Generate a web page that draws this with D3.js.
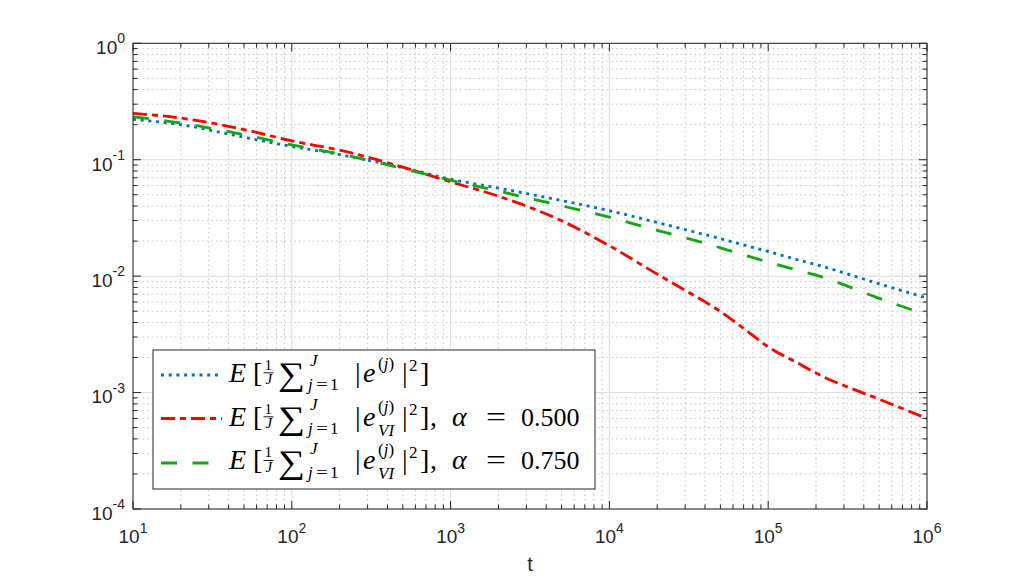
<!DOCTYPE html>
<html><head><meta charset="utf-8">
<script src="https://cdn.jsdelivr.net/npm/d3@7"></script>
<style>html,body{margin:0;padding:0;background:#fff}svg{display:block}</style>
</head><body>
<svg id="chart" width="1024" height="576"></svg>
<script>
// ---- data ----
const tValues   = [10, 20, 50, 100, 200, 500, 1000, 2000, 5000, 1e4, 2e4, 3e4, 5e4, 7e4, 1e5, 1.5e5, 2e5, 5e5, 1e6];
const errBase   = [0.222, 0.200, 0.156, 0.130, 0.1106, 0.0855, 0.068, 0.0571, 0.0446, 0.0365, 0.0289, 0.0251, 0.0210, 0.01854, 0.0163, 0.01393, 0.01256, 0.00859, 0.00648];
const errVI050  = [0.250, 0.228, 0.1817, 0.145, 0.1207, 0.0863, 0.0645, 0.0486, 0.0299, 0.01824, 0.0104, 0.00755, 0.00497, 0.00356, 0.00247, 0.001824, 0.00147, 0.000877, 0.0006];
const errVI075  = [0.234, 0.2066, 0.164, 0.134, 0.112, 0.084, 0.0667, 0.0538, 0.0402, 0.0321, 0.0247, 0.0214, 0.0175, 0.01524, 0.0132, 0.01133, 0.0102, 0.00645, 0.00463];
const xTickExps = [1, 2, 3, 4, 5, 6];
const yTickExps = [-4, -3, -2, -1, 0];
const alphaLabels = ["0.500", "0.750"];
const xLabel = "t";

// ---- layout ----
const L = 133, R = 927, T = 43.3, B = 509;
const svg = d3.select("#chart");
const x = d3.scaleLog().domain([10, 1e6]).range([L, R]);
const y = d3.scaleLog().domain([1e-4, 1]).range([B, T]);
const axisCol = "#262626";

const isMajor = v => Math.abs(Math.log10(v) - Math.round(Math.log10(v))) < 1e-9;
const xt = x.ticks(), yt = y.ticks();

// grid
const grid = svg.append("g");
grid.selectAll(".xm").data(xt.filter(v => !isMajor(v))).join("line")
  .attr("x1", d => x(d)).attr("x2", d => x(d)).attr("y1", T).attr("y2", B)
  .attr("stroke", "#c4c4c4").attr("stroke-width", 0.8).attr("stroke-dasharray", "2,2.6");
grid.selectAll(".ym").data(yt.filter(v => !isMajor(v))).join("line")
  .attr("y1", d => y(d)).attr("y2", d => y(d)).attr("x1", L).attr("x2", R)
  .attr("stroke", "#c4c4c4").attr("stroke-width", 0.8).attr("stroke-dasharray", "2,2.6");
grid.selectAll(".xM").data(xt.filter(isMajor)).join("line")
  .attr("x1", d => x(d)).attr("x2", d => x(d)).attr("y1", T).attr("y2", B)
  .attr("stroke", "#dcdcdc").attr("stroke-width", 1);
grid.selectAll(".yM").data(yt.filter(isMajor)).join("line")
  .attr("y1", d => y(d)).attr("y2", d => y(d)).attr("x1", L).attr("x2", R)
  .attr("stroke", "#dcdcdc").attr("stroke-width", 1);

// clip
svg.append("clipPath").attr("id", "clip").append("rect")
  .attr("x", L).attr("y", T).attr("width", R - L).attr("height", B - T);

const series = [
  {vals: errBase,  color: "#0072BD", dash: "3,4.7"},
  {vals: errVI050, color: "#FF0000", dash: "14,5,6,5"},
  {vals: errVI075, color: "#12A812", dash: "16,15.5"}
];
const line = d3.line().x(d => x(d[0])).y(d => y(d[1])).curve(d3.curveMonotoneX);
const lines = svg.append("g").attr("clip-path", "url(#clip)");
series.forEach(s => {
  lines.append("path").datum(tValues.map((t, i) => [t, s.vals[i]]))
    .attr("d", line).attr("fill", "none").attr("stroke", s.color)
    .attr("stroke-width", 2.8).attr("stroke-dasharray", s.dash).attr("stroke-linecap", "butt");
});

// axes box + ticks (inside, all four sides)
const ax = svg.append("g").attr("stroke", axisCol).attr("stroke-width", 1);
ax.append("rect").attr("x", L).attr("y", T).attr("width", R - L).attr("height", B - T).attr("fill", "none");
const tl = v => isMajor(v) ? 8 : 4.5;
xt.forEach(v => {
  ax.append("line").attr("x1", x(v)).attr("x2", x(v)).attr("y1", B).attr("y2", B - tl(v));
  ax.append("line").attr("x1", x(v)).attr("x2", x(v)).attr("y1", T).attr("y2", T + tl(v));
});
yt.forEach(v => {
  ax.append("line").attr("y1", y(v)).attr("y2", y(v)).attr("x1", L).attr("x2", L + tl(v));
  ax.append("line").attr("y1", y(v)).attr("y2", y(v)).attr("x1", R).attr("x2", R - tl(v));
});

// tick labels
const tickFont = "'Liberation Sans', Arial, Helvetica, sans-serif";
xTickExps.forEach(e => {
  const t = svg.append("text").attr("x", x(Math.pow(10, e))).attr("y", 543.3)
    .attr("text-anchor", "middle").attr("font-family", tickFont).attr("font-size", 19).attr("fill", axisCol);
  t.append("tspan").text("10");
  t.append("tspan").attr("dy", -10.3).attr("font-size", 14).text(String(e));
});
yTickExps.forEach(e => {
  const t = svg.append("text").attr("x", 125).attr("y", y(Math.pow(10, e)) + 10.8)
    .attr("text-anchor", "end").attr("font-family", tickFont).attr("font-size", 19).attr("fill", axisCol);
  t.append("tspan").text("10");
  t.append("tspan").attr("dy", -10.8).attr("font-size", 14).text(String(e));
});
svg.append("text").attr("x", (L + R) / 2).attr("y", 571).attr("text-anchor", "middle")
  .attr("font-family", tickFont).attr("font-size", 20).attr("fill", axisCol).text(xLabel);

// legend
const lg = svg.append("g");
lg.append("rect").attr("x", 153).attr("y", 350).attr("width", 442).attr("height", 139)
  .attr("fill", "#fff").attr("stroke", axisCol).attr("stroke-width", 1);
const rowBase = [381.6, 425.6, 469.3];
const rowLineY = [375, 418.5, 463];
series.forEach((s, i) => {
  lg.append("line").attr("x1", 161).attr("x2", 222).attr("y1", rowLineY[i]).attr("y2", rowLineY[i])
    .attr("stroke", s.color).attr("stroke-width", 2.8).attr("stroke-dasharray", s.dash);
});

const mathFont = "'Liberation Serif', 'Times New Roman', serif";
function mtext(g, px, py, size, parts, len) {
  const t = g.append("text").attr("x", px).attr("y", py).attr("font-family", mathFont)
    .attr("font-size", size).attr("fill", "#000");
  parts.forEach(p => t.append("tspan").attr("font-style", p[1] ? "italic" : "normal").text(p[0]));
  if (len) t.attr("textLength", len).attr("lengthAdjust", "spacingAndGlyphs");
  return t;
}
function mathRow(i, sub, alpha) {
  const b = rowBase[i];
  const g = lg.append("g");
  mtext(g, 229, b, 28, [["E", 1]]);
  mtext(g, 253, b, 28, [["[", 0]]);
  // fraction 1/J
  mtext(g, 268.3, b - 12, 15, [["1", 0]]).attr("text-anchor", "middle");
  mtext(g, 268.8, b + 2.8, 15, [["J", 1]]).attr("text-anchor", "middle");
  g.append("line").attr("x1", 263.5).attr("x2", 273.5).attr("y1", b - 8.8).attr("y2", b - 8.8)
    .attr("stroke", "#000").attr("stroke-width", 0.9);
  // sum with limits
  mtext(g, 278, b + 3.5, 33, [["\u2211", 0]], 27);
  mtext(g, 310, b - 15.5, 17, [["J", 1]]);
  mtext(g, 308, b + 8.5, 17, [["j", 1]]);
  mtext(g, 316, b + 8.5, 17, [["=", 0]], 12);
  mtext(g, 330, b + 8.5, 17, [["1", 0]]);
  mtext(g, 355, b, 28, [["|", 0]]);
  mtext(g, 363, b, 28, [["e", 1]]);
  if (sub) {
    mtext(g, 378, b - 14, 17, [["(", 0], ["j", 1], [")", 0]]);
    mtext(g, 378, b + 10, 17, [["VI", 1]]);
  } else {
    mtext(g, 378, b - 12.5, 17, [["(", 0], ["j", 1], [")", 0]]);
  }
  mtext(g, 402, b, 28, [["|", 0]]);
  mtext(g, 409, b - 11, 17, [["2", 0]]);
  mtext(g, 420, b, 28, [["]", 0]]);
  if (alpha) {
    mtext(g, 430, b, 28, [[",", 0]]);
    mtext(g, 452, b, 28, [["\u03b1", 1]]);
    mtext(g, 486, b, 28, [["=", 0]], 20);
    mtext(g, 521, b, 26, [[alpha, 0]]);
  }
}
mathRow(0, false, null);
mathRow(1, true, alphaLabels[0]);
mathRow(2, true, alphaLabels[1]);
</script>
</body></html>
